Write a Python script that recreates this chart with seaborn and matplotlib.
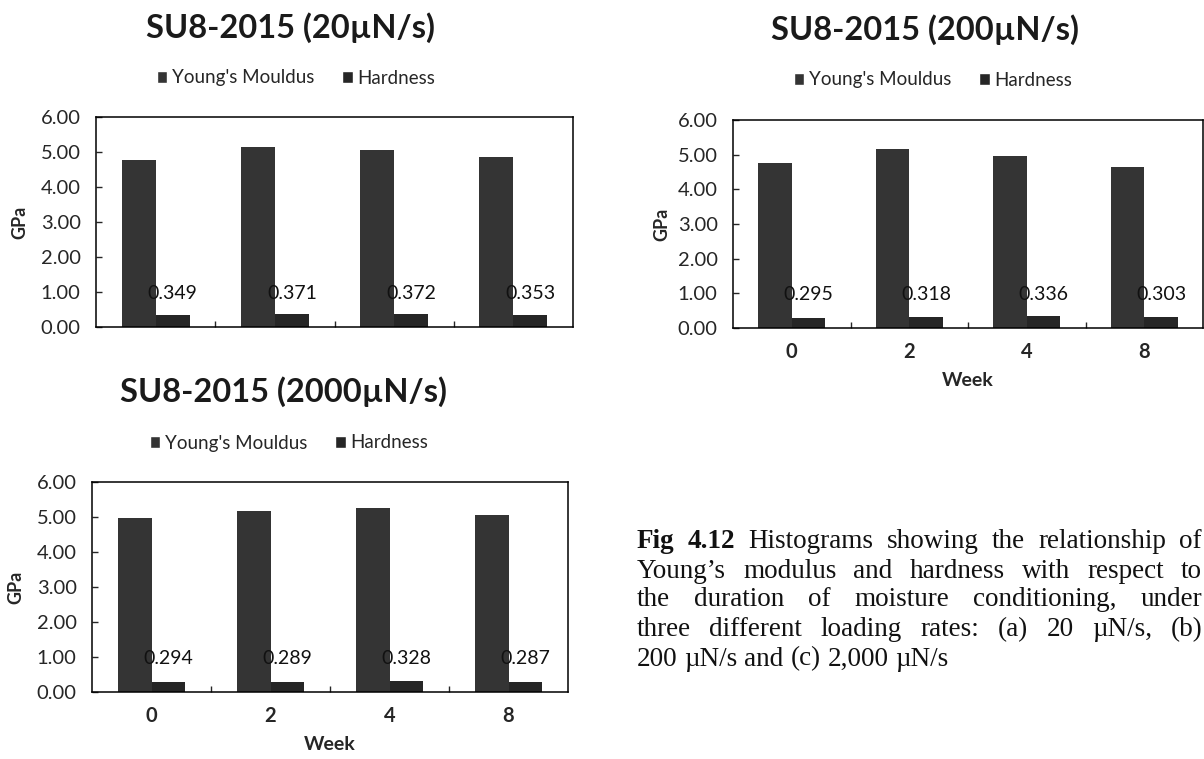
import numpy as np
import pandas as pd
import matplotlib
matplotlib.use("Agg")
import matplotlib.pyplot as plt
from matplotlib.patches import Patch
import seaborn as sns

# ---------------- data ----------------
weeks = ["0", "2", "4", "8"]
series = ["Young's Mouldus", "Hardness"]
young_20 = [4.77, 5.15, 5.06, 4.87]
hard_20 = [0.349, 0.371, 0.372, 0.353]
young_200 = [4.76, 5.16, 4.96, 4.63]
hard_200 = [0.295, 0.318, 0.336, 0.303]
young_2000 = [4.98, 5.18, 5.25, 5.06]
hard_2000 = [0.294, 0.289, 0.328, 0.287]
titles = ["SU8-2015 (20\u00b5N/s)", "SU8-2015 (200\u00b5N/s)", "SU8-2015 (2000\u00b5N/s)"]
yticks = [0, 1, 2, 3, 4, 5, 6]

caption_lines = [
    [("Fig", "bold"), ("4.12", "bold"), ("Histograms", "normal"), ("showing", "normal"),
     ("the", "normal"), ("relationship", "normal"), ("of", "normal")],
    "Young\u2019s modulus and hardness with respect to",
    "the duration of moisture conditioning, under",
    "three different loading rates: (a) 20 \u00b5N/s, (b)",
    "200 \u00b5N/s and (c) 2,000 \u00b5N/s",
]

# ---------------- style ----------------
sns.set_style("white")
plt.rcParams["font.family"] = ["Lato", "DejaVu Sans"]
plt.rcParams["axes.linewidth"] = 1.1

W, H = 1204, 759
fig = plt.figure(figsize=(W / 100, H / 100), dpi=100)
fig.patch.set_facecolor("white")

c_young = "#343434"
c_hard = "#262626"

panels = [
    # young, hard, title, axes px (l, r, top, bottom), title xy, legend xy, show x labels, ylabel x
    (young_20, hard_20, titles[0], (96, 573, 117, 327), (290, 28), (296, 78), False, 20),
    (young_200, hard_200, titles[1], (733, 1203, 120, 328), (925, 30), (933, 80), True, 662),
    (young_2000, hard_2000, titles[2], (92, 568, 482, 692), (284, 392), (289, 443), True, 16),
]

for young, hard, title, (l, r, t, b), (tx, ty), (lx, ly), showx, ylx in panels:
    ax = fig.add_axes([l / W, 1 - b / H, (r - l) / W, (b - t) / H])
    df = pd.DataFrame({
        "Week": weeks * 2,
        "GPa": list(young) + list(hard),
        "Series": [series[0]] * len(weeks) + [series[1]] * len(weeks),
    })
    sns.barplot(data=df, x="Week", y="GPa", hue="Series", order=weeks,
                hue_order=series, palette=[c_young, c_hard], saturation=1,
                width=0.57, linewidth=0, ax=ax, legend=False, errorbar=None)
    ax.set_xlim(-0.5, len(weeks) - 0.5)
    ax.set_ylim(0, 6)
    ax.set_yticks(yticks)
    ax.set_yticklabels([f"{v:.2f}" for v in yticks])
    for s in ax.spines.values():
        s.set_visible(True)
        s.set_color("black")
        s.set_linewidth(1.1)
    ax.tick_params(axis="y", direction="in", length=4, width=1, pad=11,
                   labelsize=14.5, left=True)
    ax.set_xticks(np.arange(len(weeks)))
    ax.set_xticks(np.arange(len(weeks) - 1) + 0.5, minor=True)
    ax.tick_params(axis="x", which="minor", direction="in", length=4, width=1, bottom=True)
    ax.tick_params(axis="x", which="major", length=0, pad=10, labelsize=14.5)
    if showx:
        ax.set_xticklabels(weeks, fontweight="bold")
        ax.set_xlabel("Week", fontsize=14, fontweight="bold")
        ax.xaxis.set_label_coords(0.5, -53 / (b - t))
        ax.xaxis.label.set_va("center")
    else:
        ax.set_xticklabels([])
        ax.set_xlabel("")
    ax.set_ylabel("GPa", fontsize=13, fontweight="bold")
    ax.yaxis.set_label_coords((ylx - l) / (r - l), 0.5)
    ax.yaxis.label.set_va("center")
    # data labels on hardness bars
    for patch, v in zip(ax.containers[1], hard):
        ax.text(patch.get_x() + patch.get_width() / 2, 0.97, f"{v:.3f}",
                ha="center", va="center", fontsize=14, color="#111111")
    fig.text(tx / W, 1 - ty / H, title, ha="center", va="center",
             fontsize=23.5, fontweight="bold", color="#1a1a1a")
    handles = [Patch(facecolor=c_young, label=series[0]),
               Patch(facecolor=c_hard, label=series[1])]
    fig.legend(handles=handles, loc="center", bbox_to_anchor=(lx / W, 1 - ly / H),
               ncol=2, frameon=False, fontsize=13.5, handlelength=0.55,
               handleheight=0.55, handletextpad=0.25, columnspacing=1.5,
               borderpad=0, borderaxespad=0)

# ---------------- caption (justified) ----------------
renderer = fig.canvas.get_renderer()
cap_left, cap_right = 637, 1202
cap_y = [542, 571, 600, 630, 659]
cap_font = ["Liberation Serif", "DejaVu Serif"]
cap_size = 19.5
for i, line in enumerate(caption_lines):
    if isinstance(line, str):
        words = [(w, "normal") for w in line.split(" ")]
    else:
        words = line
    texts = []
    for w, wt in words:
        tt = fig.text(0, 1 - cap_y[i] / H, w, ha="left", va="center",
                      fontsize=cap_size, fontweight=wt, family=cap_font, color="#111111")
        texts.append(tt)
    widths = [tt.get_window_extent(renderer).width for tt in texts]
    if i == len(caption_lines) - 1:
        space = cap_size * 100 / 72 * 0.25
    else:
        space = (cap_right - cap_left - sum(widths)) / max(len(widths) - 1, 1)
    x = cap_left
    for tt, wdt in zip(texts, widths):
        tt.set_x(x / W)
        x += wdt + space

fig.savefig("out.png", dpi=100, facecolor="white")
